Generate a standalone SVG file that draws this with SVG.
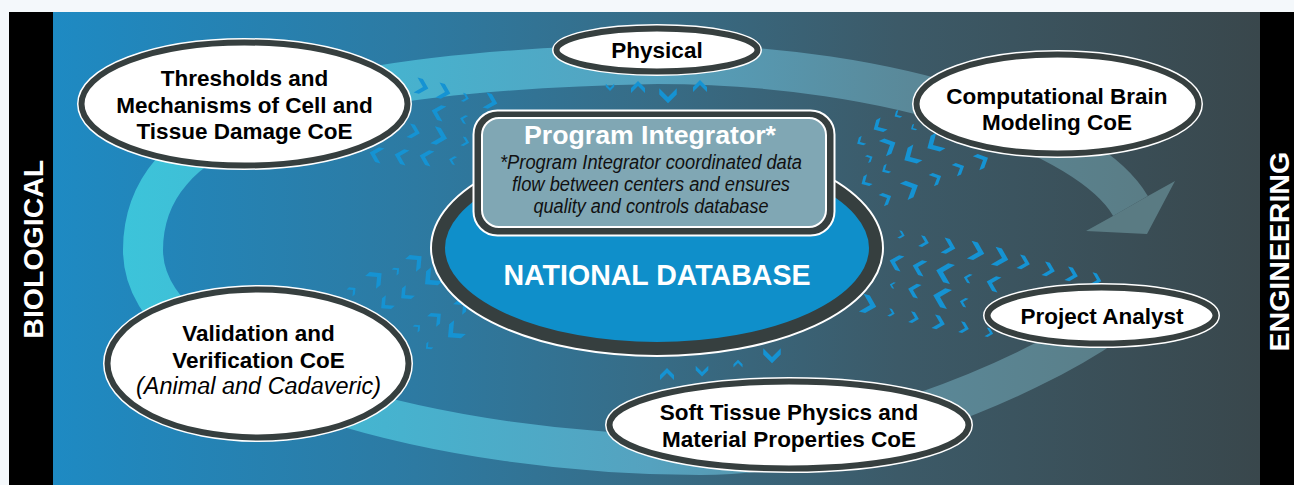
<svg xmlns="http://www.w3.org/2000/svg" width="1294" height="485" viewBox="0 0 1294 485">
<style>
.lbl{font-family:"Liberation Sans",Arial,sans-serif;font-weight:bold;font-size:22.5px;text-anchor:middle;fill:#000}
.it{font-family:"Liberation Sans",Arial,sans-serif;font-style:italic;font-size:23px;text-anchor:middle;fill:#000}
.pit{font-family:"Liberation Sans",Arial,sans-serif;font-style:italic;font-size:20.5px;text-anchor:middle;fill:#111}
.side{font-family:"Liberation Sans",Arial,sans-serif;font-weight:bold;font-size:28.5px;text-anchor:middle;fill:#fff}
.halo{fill:none;stroke:#fff;stroke-width:9}
.nd{fill:#fff;stroke:#363f3f;stroke-width:6}
.chev{fill:#1593d3}
</style>
<defs>
<linearGradient id="bg" gradientUnits="userSpaceOnUse" x1="53" y1="0" x2="1260" y2="0">
<stop offset="0" stop-color="#1e8ac3"/>
<stop offset="0.3" stop-color="#2d7aa2"/>
<stop offset="0.5" stop-color="#376c86"/>
<stop offset="0.7" stop-color="#3c5a68"/>
<stop offset="1" stop-color="#39474c"/>
</linearGradient>
<linearGradient id="band" gradientUnits="userSpaceOnUse" x1="120" y1="0" x2="1180" y2="0">
<stop offset="0" stop-color="#3cc4da"/>
<stop offset="0.25" stop-color="#46b3cf"/>
<stop offset="0.5" stop-color="#55a2bf"/>
<stop offset="0.75" stop-color="#5a8898"/>
<stop offset="1" stop-color="#5a7b83"/>
</linearGradient>
<path id="chev" d="M-2,-7 L5,0 L-2,7 L-7,7 L0,0 L-7,-7 Z"/>
</defs>

<rect x="0" y="0" width="1294" height="485" fill="#f4f8fb"/>
<rect x="53" y="12" width="1207" height="473" fill="url(#bg)"/>
<rect x="9" y="12" width="44" height="473" fill="#000"/>
<rect x="1260" y="12" width="34" height="473" fill="#000"/>
<text class="side" transform="translate(43.3,249.2) rotate(-90)">BIOLOGICAL</text>
<text class="side" transform="translate(1289,251.7) rotate(-90)">ENGINEERING</text>

<g id="connectors">
<path d="M1110,322 C1020,385 840,455 700,455 C450,455 143,380 143,250 C143,130 290,71 657,64 C900,64 1090,136 1130.5,206" fill="none" stroke="url(#band)" stroke-width="40"/>
<polygon points="1148,196 1175,181 1147,234 1086,231 1113,216" fill="#5a7b83"/>
<g class="chev">
<!-- Thresholds <-> Integrator -->
<use href="#chev" transform="translate(423,87) rotate(15) scale(1.1)"/>
<use href="#chev" transform="translate(445,92) rotate(15) scale(1.1)"/>
<use href="#chev" transform="translate(466,98) rotate(15) scale(0.6)"/>
<use href="#chev" transform="translate(492,102) rotate(15) scale(1.1)"/>
<use href="#chev" transform="translate(437,112) rotate(195) scale(1.1)"/>
<use href="#chev" transform="translate(463,119) rotate(195) scale(0.6)"/>
<use href="#chev" transform="translate(415,132) rotate(15) scale(1)"/>
<use href="#chev" transform="translate(441,137) rotate(15) scale(1.25)"/>
<use href="#chev" transform="translate(466,142) rotate(15) scale(0.65)"/>
<use href="#chev" transform="translate(375,154) rotate(195) scale(1.1)"/>
<use href="#chev" transform="translate(400,156) rotate(195) scale(1.1)"/>
<use href="#chev" transform="translate(425,157) rotate(195) scale(1.1)"/>
<use href="#chev" transform="translate(452,160) rotate(195) scale(0.6)"/>
<!-- Physical <-> Integrator -->
<use href="#chev" transform="translate(610,88) rotate(90) scale(0.6)"/>
<use href="#chev" transform="translate(638,86) rotate(-90) scale(1)"/>
<use href="#chev" transform="translate(668,97) rotate(90) scale(1.25)"/>
<use href="#chev" transform="translate(700,85) rotate(-90) scale(1)"/>
<!-- Computational <-> Database -->
<use href="#chev" transform="translate(897,115) rotate(150) scale(0.55)"/>
<use href="#chev" transform="translate(878,127) rotate(150) scale(1)"/>
<use href="#chev" transform="translate(913,128) rotate(150) scale(0.45)"/>
<use href="#chev" transform="translate(860,142) rotate(150) scale(0.65)"/>
<use href="#chev" transform="translate(890,145) rotate(-25) scale(1.2)"/>
<use href="#chev" transform="translate(933,145) rotate(150) scale(1.3)"/>
<use href="#chev" transform="translate(910,157) rotate(150) scale(1.3)"/>
<use href="#chev" transform="translate(870,158) rotate(-25) scale(0.55)"/>
<use href="#chev" transform="translate(983,160) rotate(-25) scale(1.1)"/>
<use href="#chev" transform="translate(960,168) rotate(-25) scale(0.9)"/>
<use href="#chev" transform="translate(885,170) rotate(150) scale(0.65)"/>
<use href="#chev" transform="translate(937,178) rotate(-25) scale(0.9)"/>
<use href="#chev" transform="translate(865,182) rotate(150) scale(0.8)"/>
<use href="#chev" transform="translate(912,188) rotate(-25) scale(1.3)"/>
<use href="#chev" transform="translate(887,198) rotate(-25) scale(0.9)"/>
<!-- Project Analyst <-> Database -->
<use href="#chev" transform="translate(902,235) rotate(15) scale(0.55)"/>
<use href="#chev" transform="translate(925,242) rotate(15) scale(0.8)"/>
<use href="#chev" transform="translate(950,247) rotate(15) scale(1.1)"/>
<use href="#chev" transform="translate(978,252) rotate(15) scale(1.3)"/>
<use href="#chev" transform="translate(1002,258) rotate(15) scale(1.3)"/>
<use href="#chev" transform="translate(1025,263) rotate(15) scale(1)"/>
<use href="#chev" transform="translate(1050,270) rotate(15) scale(1)"/>
<use href="#chev" transform="translate(1073,275) rotate(15) scale(1)"/>
<use href="#chev" transform="translate(1097,280) rotate(15) scale(0.9)"/>
<use href="#chev" transform="translate(895,262) rotate(195) scale(1.1)"/>
<use href="#chev" transform="translate(918,267) rotate(195) scale(1.1)"/>
<use href="#chev" transform="translate(943,272) rotate(195) scale(1.4)"/>
<use href="#chev" transform="translate(967,278) rotate(195) scale(0.65)"/>
<use href="#chev" transform="translate(992,283) rotate(195) scale(1.1)"/>
<use href="#chev" transform="translate(892,285) rotate(195) scale(0.45)"/>
<use href="#chev" transform="translate(913,290) rotate(195) scale(1)"/>
<use href="#chev" transform="translate(940,297) rotate(195) scale(1.4)"/>
<use href="#chev" transform="translate(963,302) rotate(195) scale(0.65)"/>
<use href="#chev" transform="translate(870,305) rotate(15) scale(1.3)"/>
<use href="#chev" transform="translate(892,313) rotate(15) scale(0.55)"/>
<use href="#chev" transform="translate(915,318) rotate(15) scale(0.8)"/>
<use href="#chev" transform="translate(940,323) rotate(15) scale(1)"/>
<use href="#chev" transform="translate(965,328) rotate(15) scale(0.8)"/>
<use href="#chev" transform="translate(990,333) rotate(15) scale(0.65)"/>
<!-- Validation <-> Database -->
<use href="#chev" transform="translate(417,260) rotate(-40) scale(1.2)"/>
<use href="#chev" transform="translate(397,270) rotate(-40) scale(0.55)"/>
<use href="#chev" transform="translate(377,277) rotate(-40) scale(1.2)"/>
<use href="#chev" transform="translate(430,280) rotate(140) scale(1.3)"/>
<use href="#chev" transform="translate(353,290) rotate(-40) scale(0.65)"/>
<use href="#chev" transform="translate(405,295) rotate(140) scale(1)"/>
<use href="#chev" transform="translate(385,305) rotate(140) scale(1)"/>
<use href="#chev" transform="translate(463,305) rotate(-40) scale(1)"/>
<use href="#chev" transform="translate(437,317) rotate(-40) scale(1)"/>
<use href="#chev" transform="translate(418,327) rotate(-40) scale(0.55)"/>
<use href="#chev" transform="translate(453,333) rotate(140) scale(1.3)"/>
<use href="#chev" transform="translate(428,347) rotate(140) scale(0.55)"/>
<!-- Soft Tissue <-> Database -->
<use href="#chev" transform="translate(667,373) rotate(-90) scale(1)"/>
<use href="#chev" transform="translate(702,372) rotate(90) scale(0.9)"/>
<use href="#chev" transform="translate(738,363) rotate(-90) scale(0.65)"/>
<use href="#chev" transform="translate(772,357) rotate(90) scale(1.25)"/>
</g>
</g>

<g id="national-database">
<ellipse cx="657" cy="248" rx="218.5" ry="100.5" fill="none" stroke="#fff" stroke-width="17"/>
<ellipse cx="657" cy="248" rx="218.5" ry="100.5" fill="#0f8fca" stroke="#363f3f" stroke-width="13"/>
<text x="657" y="285" font-family="'Liberation Sans',Arial,sans-serif" font-weight="bold" font-size="30" fill="#fff" text-anchor="middle" textLength="307" lengthAdjust="spacingAndGlyphs">NATIONAL DATABASE</text>
</g>

<g id="program-integrator">
<rect x="473.5" y="110.5" width="361" height="125" rx="24" fill="#363f3f" stroke="#fff" stroke-width="2"/>
<rect x="482" y="118" width="344" height="109" rx="17" fill="#80a7b4" stroke="#fff" stroke-width="2"/>
<text x="650" y="144" font-family="'Liberation Sans',Arial,sans-serif" font-weight="bold" font-size="26" fill="#fff" text-anchor="middle" textLength="252" lengthAdjust="spacingAndGlyphs">Program Integrator*</text>
<text class="pit" x="651" y="169" textLength="302" lengthAdjust="spacingAndGlyphs">*Program Integrator coordinated data</text>
<text class="pit" x="651" y="191" textLength="278" lengthAdjust="spacingAndGlyphs">flow between centers and ensures</text>
<text class="pit" x="651" y="212.5" textLength="235" lengthAdjust="spacingAndGlyphs">quality and controls database</text>
</g>

<g id="thresholds">
<ellipse class="halo" cx="244.5" cy="104" rx="163" ry="61.5"/>
<ellipse class="nd" cx="244.5" cy="104" rx="163" ry="61.5"/>
<text class="lbl" x="244.5" y="86">Thresholds and</text>
<text class="lbl" x="244.5" y="112.5">Mechanisms of Cell and</text>
<text class="lbl" x="244.5" y="139">Tissue Damage CoE</text>
</g>

<g id="physical">
<ellipse class="halo" cx="657" cy="50" rx="100.5" ry="21.5"/>
<ellipse class="nd" cx="657" cy="50" rx="100.5" ry="21.5"/>
<text class="lbl" x="657" y="57.5">Physical</text>
</g>

<g id="computational-brain">
<ellipse class="halo" cx="1057.5" cy="104" rx="141" ry="49.5"/>
<ellipse class="nd" cx="1057.5" cy="104" rx="141" ry="49.5"/>
<text class="lbl" x="1057" y="103.5">Computational Brain</text>
<text class="lbl" x="1057" y="129.5">Modeling CoE</text>
</g>

<g id="validation">
<ellipse class="halo" cx="258" cy="363.5" rx="150.5" ry="74"/>
<ellipse class="nd" cx="258" cy="363.5" rx="150.5" ry="74"/>
<text class="lbl" x="258.5" y="341">Validation and</text>
<text class="lbl" x="258.5" y="368">Verification CoE</text>
<text class="it" x="258.5" y="394" textLength="245" lengthAdjust="spacingAndGlyphs">(Animal and Cadaveric)</text>
</g>

<g id="project-analyst">
<ellipse class="halo" cx="1101.5" cy="315.5" rx="114" ry="28"/>
<ellipse class="nd" cx="1101.5" cy="315.5" rx="114" ry="28"/>
<text class="lbl" x="1102" y="323.5">Project Analyst</text>
</g>

<g id="soft-tissue">
<ellipse class="halo" cx="789" cy="425" rx="179.5" ry="43.5"/>
<ellipse class="nd" cx="789" cy="425" rx="179.5" ry="43.5"/>
<text class="lbl" x="789" y="420">Soft Tissue Physics and</text>
<text class="lbl" x="789" y="447">Material Properties CoE</text>
</g>
</svg>
